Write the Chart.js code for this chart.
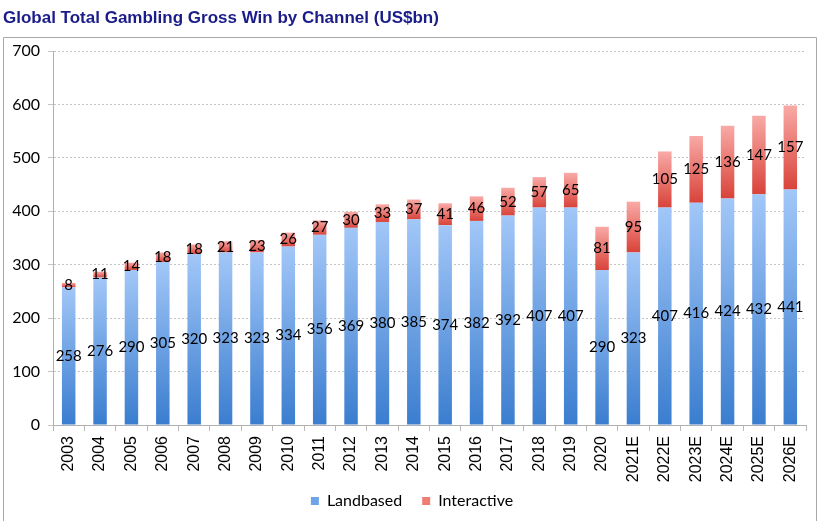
<!DOCTYPE html>
<html>
<head>
<meta charset="utf-8">
<script src="https://cdn.jsdelivr.net/npm/chart.js@4/dist/chart.umd.min.js"></script>
<style>
  html, body { margin: 0; padding: 0; background: #ffffff; }
  #wrap { width: 821px; height: 521px; }
</style>
</head>
<body>
<div id="wrap"><canvas id="c" width="821" height="521"></canvas></div>
<script>
const TITLE = 'Global Total Gambling Gross Win by Channel (US$bn)';
const years = ['2003','2004','2005','2006','2007','2008','2009','2010','2011','2012','2013','2014','2015','2016','2017','2018','2019','2020','2021E','2022E','2023E','2024E','2025E','2026E'];
const landbased = [258,276,290,305,320,323,323,334,356,369,380,385,374,382,392,407,407,290,323,407,416,424,432,441];
const interactive = [8,11,14,18,18,21,23,26,27,30,33,37,41,46,52,57,65,81,95,105,125,136,147,157];
const seriesNames = ['Landbased', 'Interactive'];
const yTicks = [0,100,200,300,400,500,600,700];

const LAND_TOP = '#a2c7f8', LAND_BOT = '#3a7dcf', LAND_LEG = '#6ea4ea';
const INT_TOP = '#f9aaa6', INT_BOT = '#d8433a', INT_LEG = '#ee7d76';

function segGradient(c, lowFn, highFn, topCol, botCol, fallback) {
  const chart = c.chart;
  if (!chart.chartArea || c.type !== 'data') return fallback;
  const y = chart.scales.y;
  const i = c.dataIndex;
  const yTop = y.getPixelForValue(highFn(i));
  const yBot = y.getPixelForValue(lowFn(i));
  if (!isFinite(yTop) || !isFinite(yBot) || yTop === yBot) return fallback;
  const g = chart.ctx.createLinearGradient(0, yTop, 0, yBot);
  g.addColorStop(0, topCol);
  g.addColorStop(1, botCol);
  return g;
}

const framePlugin = {
  id: 'frameTitle',
  beforeDraw(chart) {
    const ctx = chart.ctx;
    ctx.save();
    ctx.fillStyle = '#ffffff';
    ctx.fillRect(0, 0, chart.width, chart.height);
    ctx.strokeStyle = '#a8a8a8';
    ctx.lineWidth = 1;
    ctx.beginPath();
    ctx.moveTo(3.5, 540);
    ctx.lineTo(3.5, 37.5);
    ctx.lineTo(816.5, 37.5);
    ctx.lineTo(816.5, 540);
    ctx.stroke();
    ctx.fillStyle = '#1a1c88';
    ctx.font = 'bold 17px "Liberation Sans", Arial, sans-serif';
    ctx.textBaseline = 'alphabetic';
    ctx.textAlign = 'left';
    ctx.fillText(TITLE, 3, 23);
    ctx.restore();
  },
  afterLayout(chart) {
    const lg = chart.legend;
    if (lg) {
      lg.left += 9; lg.right += 9;
      const want = 473;
      const dy = want - lg.top;
      lg.top += dy; lg.bottom += dy;
    }
  }
};

const labelPlugin = {
  id: 'segLabels',
  afterDatasetsDraw(chart) {
    const ctx = chart.ctx;
    ctx.save();
    ctx.font = '15px Lato, sans-serif';
    ctx.fillStyle = '#000000';
    ctx.textAlign = 'center';
    ctx.textBaseline = 'middle';
    chart.data.datasets.forEach((ds, di) => {
      const meta = chart.getDatasetMeta(di);
      meta.data.forEach((bar, i) => {
        const p = bar.getProps(['x', 'y', 'base'], true);
        const cy = (p.y + p.base) / 2;
        ctx.fillText(String(ds.data[i]), p.x, cy);
      });
    });
    ctx.restore();
  }
};

new Chart(document.getElementById('c'), {
  type: 'bar',
  data: {
    labels: years,
    datasets: [
      {
        label: seriesNames[0],
        data: landbased,
        backgroundColor: (c) => segGradient(c, () => 0, (i) => landbased[i], LAND_TOP, LAND_BOT, LAND_LEG),
        borderWidth: 0,
        barPercentage: 0.43,
        categoryPercentage: 1.0
      },
      {
        label: seriesNames[1],
        data: interactive,
        backgroundColor: (c) => segGradient(c, (i) => landbased[i], (i) => landbased[i] + interactive[i], INT_TOP, INT_BOT, INT_LEG),
        borderWidth: 0,
        barPercentage: 0.43,
        categoryPercentage: 1.0
      }
    ]
  },
  options: {
    responsive: false,
    animation: false,
    devicePixelRatio: 1,
    layout: { padding: { top: 51, left: 0, right: 15, bottom: -8 } },
    plugins: {
      title: { display: false },
      tooltip: { enabled: false },
      legend: {
        display: true,
        position: 'bottom',
        labels: {
          boxWidth: 8,
          boxHeight: 8,
          padding: 20,
          color: '#000000',
          font: { family: 'Lato, sans-serif', size: 16 },
          generateLabels(chart) {
            const items = Chart.defaults.plugins.legend.labels.generateLabels(chart);
            const cols = [LAND_LEG, INT_LEG];
            items.forEach((it, k) => { it.fillStyle = cols[k]; it.strokeStyle = cols[k]; it.lineWidth = 0; });
            return items;
          }
        }
      }
    },
    scales: {
      x: {
        stacked: true,
        offset: true,
        grid: {
          display: true,
          offset: true,
          drawOnChartArea: false,
          drawTicks: true,
          tickLength: 6,
          tickColor: '#b8b8b8'
        },
        border: { display: true, color: '#b0b0b0', width: 1 },
        ticks: {
          autoSkip: false,
          minRotation: 90,
          maxRotation: 90,
          padding: 5,
          color: '#000000',
          font: { family: '"Liberation Sans", Arial, sans-serif', size: 16 }
        },
        afterFit(scale) { scale.height = 58; }
      },
      y: {
        stacked: true,
        min: 0,
        max: 700,
        afterBuildTicks(scale) { scale.ticks = yTicks.map(v => ({ value: v })); },
        grid: {
          color: '#c4c4c4',
          lineWidth: 1,
          drawTicks: true,
          tickLength: 5,
          tickColor: '#c4c4c4',
          tickBorderDash: []
        },
        border: { display: true, color: '#b0b0b0', width: 1, dash: [2, 2] },
        ticks: {
          padding: 8,
          color: '#000000',
          font: { family: 'Lato, sans-serif', size: 16 }
        },
        afterFit(scale) { scale.width = 53; }
      }
    }
  },
  plugins: [framePlugin, labelPlugin]
});
</script>
</body>
</html>
